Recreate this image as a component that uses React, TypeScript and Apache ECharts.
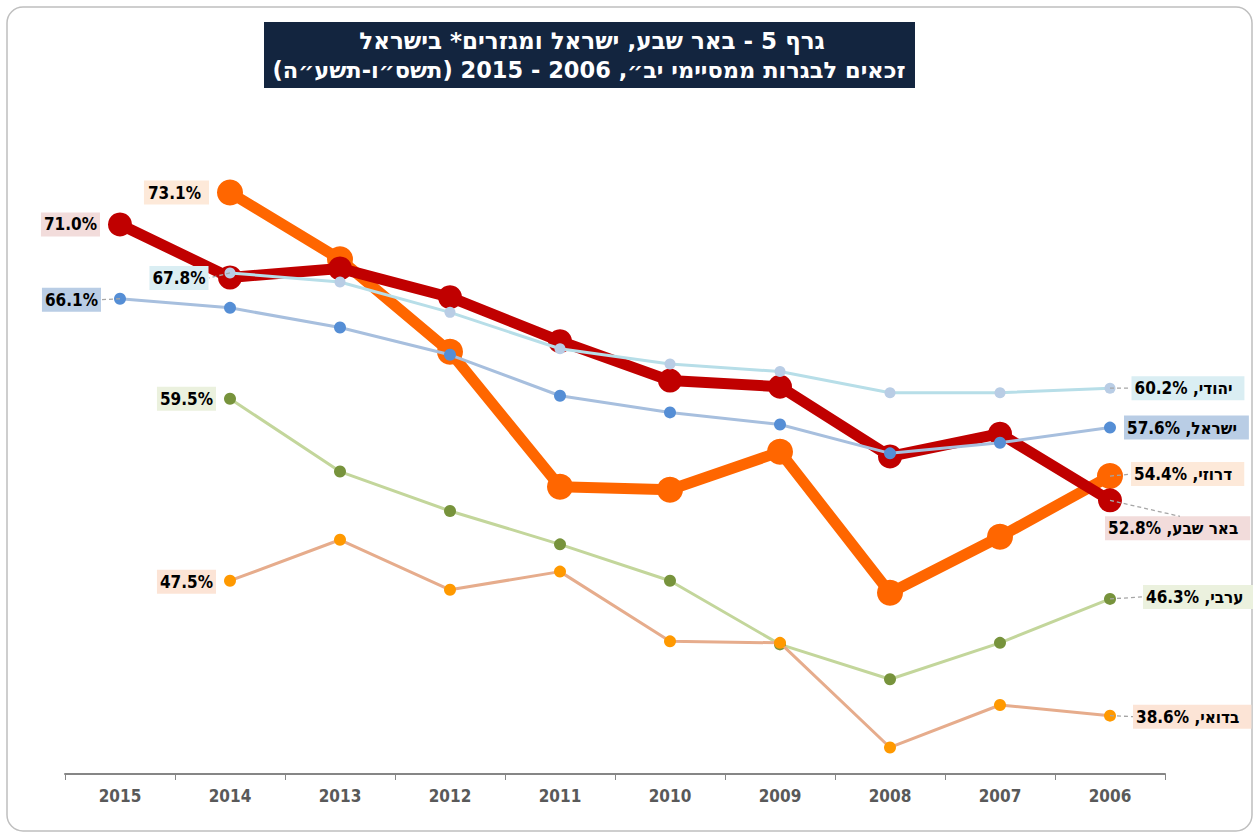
import React, { useEffect, useRef } from "react";
import * as echarts from "echarts";

const categories = ["2015", "2014", "2013", "2012", "2011", "2010", "2009", "2008", "2007", "2006"];

const beershebaValues = [71.0, 67.5, 68.1, 66.2, 63.3, 60.7, 60.3, 55.7, 57.2, 52.8];
const druzeValues = [null, 73.1, 68.7, 62.6, 53.7, 53.5, 56.0, 46.7, 50.4, 54.4];
const jewishValues = [null, 67.8, 67.2, 65.2, 62.8, 61.8, 61.3, 59.9, 59.9, 60.2];
const israelValues = [66.1, 65.5, 64.2, 62.4, 59.7, 58.6, 57.8, 55.9, 56.6, 57.6];
const arabValues = [null, 59.5, 54.7, 52.1, 49.9, 47.5, 43.3, 41.0, 43.4, 46.3];
const bedouinValues = [null, 47.5, 50.2, 46.9, 48.1, 43.5, 43.4, 36.5, 39.3, 38.6];

const seriesNames = ["באר שבע", "דרוזי", "יהודי", "ישראל", "ערבי", "בדואי"];

const titleLine1 = "גרף 5 - באר שבע, ישראל ומגזרים* בישראל";
const titleLine2 = "זכאים לבגרות ממסיימי יב״, 2006 - 2015 (תשס״ו-תשע״ה)\u200F";

const FONT = "DejaVu Sans";
const FONT_C = "'DejaVu Sans Condensed', 'DejaVu Sans'";

type LabelSpec = {
  idx: number;
  side: "left" | "right";
  distance: number;
  offset: [number, number];
  withName: boolean;
  padding: number[];
  leader?: [number, number];
};

export default function App() {
  const ref = useRef<HTMLDivElement>(null);

  useEffect(() => {
    if (!ref.current) return;
    const chart = echarts.init(ref.current, null, { renderer: "svg" });

    const labelStyleBase = {
      show: true,
      color: "#000",
      fontFamily: FONT_C,
      fontWeight: "bold" as const,
      fontSize: 17,
      lineHeight: 19,
    };

    const makeData = (
      values: (number | null)[],
      name: string,
      bg: string,
      specs: LabelSpec[]
    ) =>
      values.map((v, i) => {
        const spec = specs.find((s) => s.idx === i);
        if (v == null) return { value: null };
        if (!spec) return { value: v, label: { show: false } };
        const txt = v.toFixed(1) + "%";
        return {
          value: v,
          label: {
            ...labelStyleBase,
            position: spec.side,
            distance: spec.distance,
            offset: spec.offset,
            backgroundColor: bg,
            padding: spec.padding,
            formatter: spec.withName ? name + ", " + txt : txt,
          },
        };
      });

    const defs = [
      {
        name: seriesNames[1],
        values: druzeValues,
        line: "#FF6600",
        marker: "#FF6600",
        width: 11,
        size: 26,
        bg: "#FDE9D9",
        specs: [
          { idx: 1, side: "left", distance: 8, offset: [0, 0], withName: false, padding: [3, 8, 2, 4] },
          { idx: 9, side: "right", distance: 8, offset: [0, -2], withName: true, padding: [3, 12, 2, 3], leader: [21, -2] },
        ],
      },
      {
        name: seriesNames[0],
        values: beershebaValues,
        line: "#C00000",
        marker: "#C00000",
        width: 11,
        size: 24,
        bg: "#F2DCDB",
        specs: [
          { idx: 0, side: "left", distance: 8, offset: [0, 0], withName: false, padding: [3, 3, 2, 3] },
          { idx: 9, side: "right", distance: 0, offset: [-17, 28], withName: true, padding: [3, 12, 2, 3], leader: [70, 16] },
        ],
      },
      {
        name: seriesNames[2],
        values: jewishValues,
        line: "#B7DEE8",
        marker: "#B9CDE5",
        width: 3,
        size: 11,
        bg: "#DAEEF3",
        specs: [
          { idx: 1, side: "left", distance: 16, offset: [0, 5], withName: false, padding: [3, 3, 2, 3], leader: [-21, 5] },
          { idx: 9, side: "right", distance: 16, offset: [0, 0], withName: true, padding: [3, 12, 2, 3], leader: [21, 0] },
        ],
      },
      {
        name: seriesNames[3],
        values: israelValues,
        line: "#A7BFDE",
        marker: "#558ED5",
        width: 3,
        size: 12,
        bg: "#B9CDE5",
        specs: [
          { idx: 0, side: "left", distance: 13, offset: [0, 1], withName: false, padding: [3, 3, 2, 3], leader: [-19, 1] },
          { idx: 9, side: "right", distance: 8, offset: [0, 0], withName: true, padding: [3, 12, 2, 3] },
        ],
      },
      {
        name: seriesNames[4],
        values: arabValues,
        line: "#C3D69B",
        marker: "#77933C",
        width: 3,
        size: 12,
        bg: "#EBF1DE",
        specs: [
          { idx: 1, side: "left", distance: 8, offset: [0, 0], withName: false, padding: [3, 3, 2, 3] },
          { idx: 9, side: "right", distance: 27, offset: [0, -2], withName: true, padding: [3, 12, 2, 3], leader: [33, -2] },
        ],
      },
      {
        name: seriesNames[5],
        values: bedouinValues,
        line: "#E6AC8C",
        marker: "#FF9900",
        width: 3,
        size: 12,
        bg: "#FCE4D6",
        specs: [
          { idx: 1, side: "left", distance: 8, offset: [0, 1], withName: false, padding: [3, 3, 2, 3] },
          { idx: 9, side: "right", distance: 17, offset: [0, 1], withName: true, padding: [3, 12, 2, 3], leader: [23, 1] },
        ],
      },
    ] as any[];

    const series = defs.map((d, k) => ({
      name: d.name,
      type: "line",
      data: makeData(d.values, d.name, d.bg, d.specs),
      symbol: "circle",
      symbolSize: d.size,
      showAllSymbol: true,
      z: 2 + k,
      lineStyle: { color: d.line, width: d.width },
      itemStyle: { color: d.marker, borderWidth: 0 },
      emphasis: { disabled: true },
    }));

    const option: any = {
      animation: false,
      backgroundColor: "#FFFFFF",
      grid: { left: 65, right: 88, top: 88, bottom: 59 },
      xAxis: {
        type: "category",
        data: categories,
        boundaryGap: true,
        axisLine: { lineStyle: { color: "#868686", width: 2 } },
        axisTick: { show: true, length: 6, lineStyle: { color: "#868686", width: 1 } },
        axisLabel: {
          color: "#595959",
          fontFamily: FONT_C,
          fontWeight: "bold",
          fontSize: 17,
          margin: 13,
        },
        splitLine: { show: false },
      },
      yAxis: {
        type: "value",
        min: 34.75,
        max: 80,
        show: false,
        splitLine: { show: false },
      },
      series,
    };

    chart.setOption(option);

    const graphics: any[] = [
      {
        type: "rect",
        silent: true,
        shape: { x: 7, y: 7, width: 1245, height: 824, r: 16 },
        style: { fill: "none", stroke: "#BFBFBF", lineWidth: 1.5 },
        z: 0,
      },
      {
        type: "rect",
        shape: { x: 264, y: 22, width: 651, height: 66 },
        style: { fill: "#13253F" },
        z: 10,
      },
      {
        type: "text",
        x: 592,
        y: 41,
        style: {
          text: titleLine1,
          fill: "#FFFFFF",
          font: `bold 23px "${FONT}"`,
          textAlign: "center",
          textVerticalAlign: "middle",
        },
        z: 11,
      },
      {
        type: "text",
        x: 589,
        y: 70,
        style: {
          text: titleLine2,
          fill: "#FFFFFF",
          font: `bold 22.5px "${FONT}"`,
          textAlign: "center",
          textVerticalAlign: "middle",
        },
        z: 11,
      },
    ];

    defs.forEach((d, k) => {
      d.specs.forEach((s: LabelSpec) => {
        if (!s.leader) return;
        const v = d.values[s.idx];
        if (v == null) return;
        const p = chart.convertToPixel({ seriesIndex: k }, [s.idx, v]) as number[];
        graphics.push({
          type: "line",
          silent: true,
          shape: { x1: p[0], y1: p[1], x2: p[0] + s.leader[0], y2: p[1] + s.leader[1] },
          style: { stroke: "#A6A6A6", lineWidth: 1.3, lineDash: [4, 3] },
          z: 50,
        });
      });
    });

    chart.setOption({ graphic: graphics });

    return () => chart.dispose();
  }, []);

  return (
    <div
      ref={ref}
      style={{ position: "absolute", left: 0, top: 0, width: 1253, height: 833 }}
    />
  );
}
